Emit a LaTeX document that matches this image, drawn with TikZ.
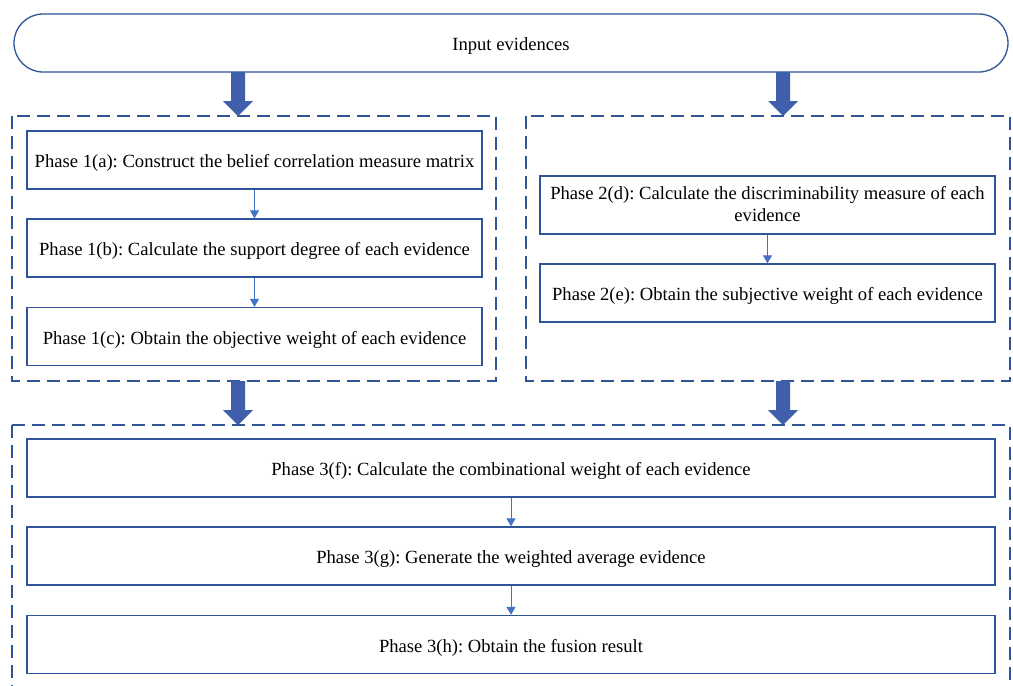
\documentclass[tikz,border=0pt]{standalone}
\usepackage{fontspec}
\setmainfont{Liberation Serif}
\frenchspacing
\usetikzlibrary{arrows.meta,shapes.misc}
\definecolor{bord}{HTML}{2F5597}
\definecolor{thin}{HTML}{4472C4}
\definecolor{big}{HTML}{3F5FAA}
\tikzset{
  box/.style={draw=bord, line width=1.3pt, fill=white, minimum height=58pt, inner sep=2pt, align=center, text height=19.5pt, text depth=4pt, font=\fontsize{18.6}{22}\selectfont},
  grp/.style={draw=bord, line width=1.5pt, dash pattern=on 13pt off 7pt},
  sarr/.style={draw=thin, line width=0.9pt, -{Triangle[width=9pt,length=8pt]}},
}
\newcommand{\bigarrow}[3]{% x, ytop, ybot
  \fill[big] (#1-7,#2) -- (#1+7,#2) -- (#1+7,#3-15) -- (#1+15,#3-15) -- (#1,#3) -- (#1-15,#3-15) -- (#1-7,#3-15) -- cycle;}
\begin{document}
\begin{tikzpicture}[x=1pt,y=-1pt]
\useasboundingbox (0,0) rectangle (1013,686);
\clip (0,0) rectangle (1013,686);
\fill[white] (0,0) rectangle (1013,686);
% input
\node[box, rounded rectangle, minimum width=998pt, minimum height=58pt] (in) at (511,43) {Input evidences};
% groups
\draw[grp] (12,116) rectangle (496,381);
\draw[grp] (526,116) rectangle (1010,381);
\draw[grp] (12,425) -- (12,700) (12,425) -- (1010,425) -- (1010,700);
% big arrows
\bigarrow{238}{72}{116}
\bigarrow{783}{72}{116}
\bigarrow{238}{381}{425}
\bigarrow{783}{381}{425}
% phase 1
\node[box, minimum width=455pt] (a) at (254.5,160) {Phase 1(a): Construct the belief correlation measure matrix};
\node[box, minimum width=455pt] (b) at (254.5,248) {Phase 1(b): Calculate the support degree of each evidence};
\node[box, minimum width=455pt] (c) at (254.5,336.5) {Phase 1(c): Obtain the objective weight of each evidence};
\draw[sarr] (a) -- (b);
\draw[sarr] (b) -- (c);
% phase 2
\node[box, minimum width=455pt, text height=36pt, text depth=4pt] (d) at (767.5,205) {Phase 2(d): Calculate the discriminability measure of each\\[-0.5pt]evidence};
\node[box, minimum width=455pt] (e) at (767.5,293) {Phase 2(e): Obtain the subjective weight of each evidence};
\draw[sarr] (d) -- (e);
% phase 3
\node[box, minimum width=968pt] (f) at (511,468) {Phase 3(f): Calculate the combinational weight of each evidence};
\node[box, minimum width=968pt] (g) at (511,556) {Phase 3(g): Generate the weighted average evidence};
\node[box, minimum width=968pt] (h) at (511,644.5) {Phase 3(h): Obtain the fusion result};
\draw[sarr] (f) -- (g);
\draw[sarr] (g) -- (h);
\end{tikzpicture}
\end{document}
